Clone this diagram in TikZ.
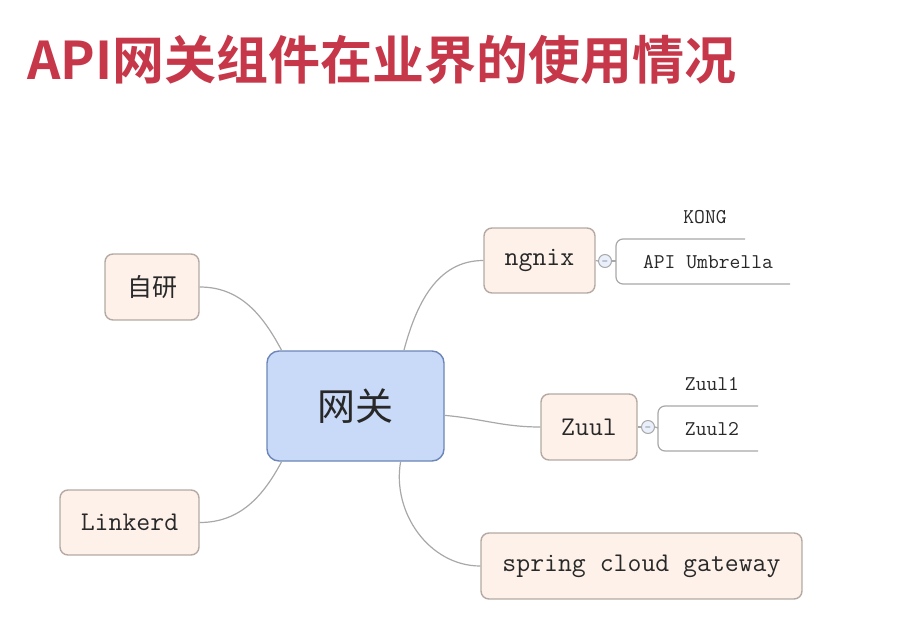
\documentclass[tikz,border=0pt]{standalone}
\usepackage{fontspec}
\newfontfamily\cjk{Noto Sans CJK SC}
\newfontfamily\cjkbold{Noto Sans CJK SC Bold}
\usetikzlibrary{calc}

\definecolor{titlered}{RGB}{199,55,74}
\definecolor{topicfill}{RGB}{253,241,233}
\definecolor{topicline}{RGB}{180,170,163}
\definecolor{rootfill}{RGB}{201,218,248}
\definecolor{rootline}{RGB}{108,134,185}
\definecolor{branchline}{RGB}{168,168,168}
\definecolor{topictext}{RGB}{40,40,40}

\begin{document}
\begin{tikzpicture}[x=1pt,y=-1pt]
  \tikzset{
    topic box/.style={
      draw=topicline,
      fill=topicfill,
      line width=1.4pt,
      rounded corners=8pt,
      inner sep=0pt,
      text=topictext,
      font=\ttfamily\fontsize{27}{30}\selectfont,
    },
    root box/.style={
      topic box,
      draw=rootline,
      fill=rootfill,
      rounded corners=12pt,
      font=\cjk\fontsize{38}{42}\selectfont,
    },
    sub topic/.style={
      inner sep=0pt,
      text=topictext,
      font=\ttfamily\fontsize{21}{23}\selectfont,
    },
    branch/.style={
      draw=branchline,
      line width=1.2pt,
    },
    fold/.style={
      circle,
      draw=branchline,
      fill=rootfill!40,
      line width=1pt,
      minimum size=13pt,
      inner sep=0pt,
      font=\fontsize{8}{8}\selectfont,
    },
  }
  \useasboundingbox (0,0) rectangle (913,616);

  % title
  \node[anchor=west, text=titlered, font=\cjkbold\fontsize{52}{56}\selectfont,
    inner sep=0pt] (title) at (27,60) {API网关组件在业界的使用情况};

  % topics
  \node[root box, minimum width=177pt, minimum height=110pt] (gw) at (355.5,406) {网关};
  \node[topic box, minimum width=94pt, minimum height=66pt] (ziyan) at (152,287)
    {\cjk\fontsize{25}{28}\selectfont 自研};
  \node[topic box, minimum width=139pt, minimum height=65pt] (linkerd) at (129.5,522.5) {Linkerd};
  \node[topic box, minimum width=111pt, minimum height=65pt] (ngnix) at (539.5,260.5) {ngnix};
  \node[topic box, minimum width=96pt, minimum height=66pt] (zuul) at (589,427) {Zuul};
  \node[topic box, minimum width=321pt, minimum height=66pt] (scg) at (641.5,566)
    {spring cloud gateway};

  \draw[branch] (ziyan.east) to[out=0, in=118] (gw.143);
  \draw[branch] (linkerd.east) to[out=0, in=-118] (gw.217);
  \draw[branch] (gw.49) to[out=75, in=180] (ngnix.west);
  \draw[branch] (gw.-6) to[out=-5, in=180] (zuul.west);
  \draw[branch] (gw.-51) to[out=-100, in=180] (scg.west);

  % ngnix children
  \node[fold] (ngnix-fold) at (605,261) {$-$};
  \draw[branch] (ngnix.east) -- (ngnix-fold.west);
  \node[sub topic] (kong) at (705,217) {KONG};
  \node[sub topic] (umbrella) at (708,262) {API Umbrella};
  \coordinate (kong-end) at (745,239);
  \coordinate (umbrella-end) at (790,284);
  \draw[branch, rounded corners=7pt] (kong-end) -- (616,239) -- (616,284) -- (umbrella-end);
  \draw[branch] (ngnix-fold.east) -- (616,261);

  % zuul children
  \node[fold] (zuul-fold) at (648,427) {$-$};
  \draw[branch] (zuul.east) -- (zuul-fold.west);
  \node[sub topic] (zuul1) at (712,384) {Zuul1};
  \node[sub topic] (zuul2) at (712,429) {Zuul2};
  \coordinate (zuul1-end) at (758,406);
  \coordinate (zuul2-end) at (758,451);
  \draw[branch, rounded corners=7pt] (zuul1-end) -- (658,406) -- (658,451) -- (zuul2-end);
  \draw[branch] (zuul-fold.east) -- (658,428);
\end{tikzpicture}
\end{document}
